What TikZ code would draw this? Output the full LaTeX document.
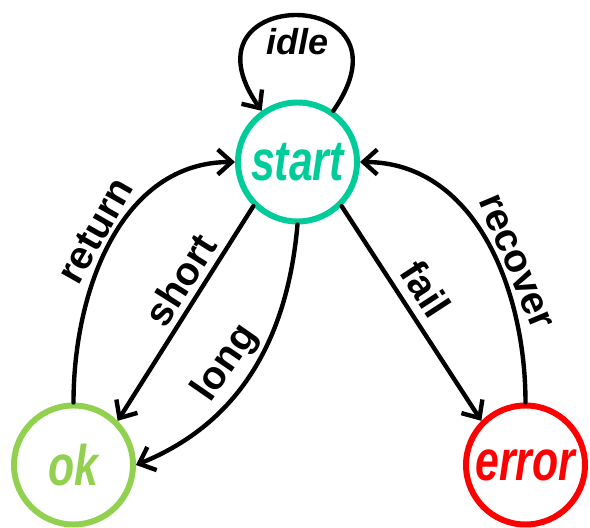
\documentclass[tikz,border=0pt]{standalone}
\usepackage{fontspec}
\setmainfont{Liberation Sans}
\newfontfamily\statefont[FakeStretch=0.75]{Liberation Sans}
\usepackage{tikz}
\usetikzlibrary{arrows.meta, positioning}
\definecolor{startgreen}{RGB}{0,204,153}
\definecolor{okgreen}{RGB}{146,208,80}
\definecolor{errred}{RGB}{255,0,0}
\tikzset{state/.style={circle,draw,line width=3.4pt,minimum size=2.38cm,inner sep=0pt,font=\statefont\fontsize{32.5}{36}\selectfont\bfseries\itshape},
         trans/.style={-{Straight Barb[length=2.8mm,width=5mm]},line width=2.5pt,line cap=round},
         lbl/.style={font=\fontsize{22.5}{25}\selectfont\bfseries}}
\begin{document}
\begin{tikzpicture}[x=1cm,y=1cm]
    \useasboundingbox (0,0) rectangle (11.8,10.56);
    % States
    \node (start) at (5.95,7.32) [state,draw=startgreen,text=startgreen]{start};
    \node (ok) at (1.47,1.26) [state,draw=okgreen,text=okgreen]{ok};
    \node (error) at (10.51,1.26) [state,draw=errred,text=errred]{error};
    % Transitions
    \draw[trans] (start.55) .. controls +(55:3.1) and +(125:3.1) .. node[lbl,below,inner sep=6pt,font=\fontsize{20.5}{24}\selectfont\bfseries]{\itshape idle} (start.125);
    \draw[trans] (start.225) -- node[lbl,sloped,above,pos=0.4]{short} (ok.45);
    \draw[trans] (start.south) to[out=-95,in=22] node[lbl,sloped,above,pos=0.53]{long} (ok.east);
    \draw[trans] (ok.north) to[out=90,in=180] node[lbl,sloped,above,pos=0.5,inner sep=2pt]{return} (start.west);
    \draw[trans] (start.-45) -- node[lbl,sloped,above,pos=0.45,inner sep=5pt]{fail} (error.135);
    \draw[trans] (error.north) to[out=90,in=0] node[lbl,sloped,above,pos=0.4,inner sep=2pt]{recover} (start.east);
\end{tikzpicture}
\end{document}
